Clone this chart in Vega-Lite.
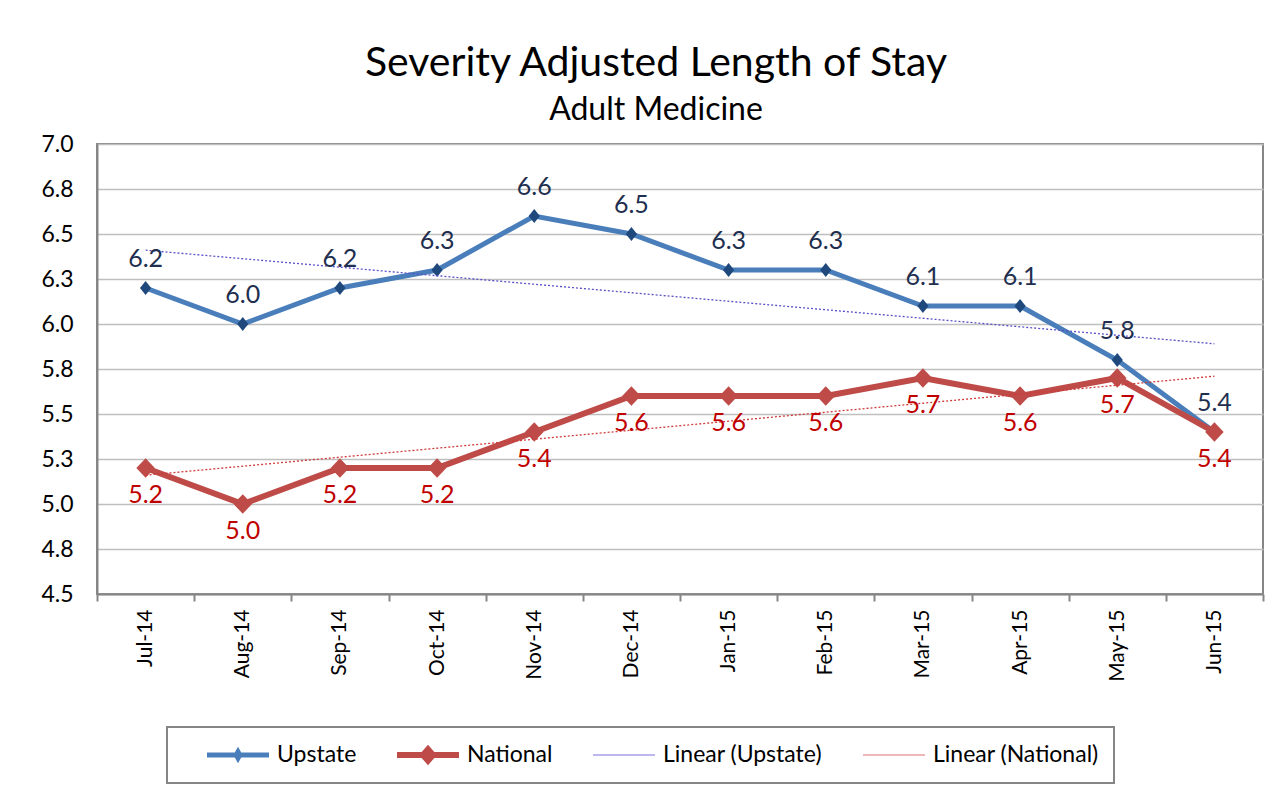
{
  "$schema": "https://vega.github.io/schema/vega-lite/v6.json",
  "width": 1166,
  "height": 450,
  "autosize": {"type": "none"},
  "padding": {"left": 97, "top": 144, "right": 17, "bottom": 203},
  "background": "white",
  "config": {
    "font": "Lato, Open Sans, sans-serif",
    "view": {"stroke": "#868686", "strokeWidth": 2}
  },
  "title": {
    "text": "Severity Adjusted Length of Stay",
    "subtitle": "Adult Medicine",
    "anchor": "middle",
    "dx": -24,
    "offset": 6,
    "font": "Lato, Open Sans, sans-serif",
    "subtitleFont": "Lato, Open Sans, sans-serif",
    "fontSize": 41,
    "fontWeight": "normal",
    "color": "#000000",
    "subtitleFontSize": 32,
    "subtitleColor": "#000000",
    "subtitlePadding": 10
  },
  "data": {
    "values": [
      {"month": "Jul-14", "series": "Upstate", "value": 6.2},
      {"month": "Aug-14", "series": "Upstate", "value": 6.0},
      {"month": "Sep-14", "series": "Upstate", "value": 6.2},
      {"month": "Oct-14", "series": "Upstate", "value": 6.3},
      {"month": "Nov-14", "series": "Upstate", "value": 6.6},
      {"month": "Dec-14", "series": "Upstate", "value": 6.5},
      {"month": "Jan-15", "series": "Upstate", "value": 6.3},
      {"month": "Feb-15", "series": "Upstate", "value": 6.3},
      {"month": "Mar-15", "series": "Upstate", "value": 6.1},
      {"month": "Apr-15", "series": "Upstate", "value": 6.1},
      {"month": "May-15", "series": "Upstate", "value": 5.8},
      {"month": "Jun-15", "series": "Upstate", "value": 5.4},
      {"month": "Jul-14", "series": "National", "value": 5.2},
      {"month": "Aug-14", "series": "National", "value": 5.0},
      {"month": "Sep-14", "series": "National", "value": 5.2},
      {"month": "Oct-14", "series": "National", "value": 5.2},
      {"month": "Nov-14", "series": "National", "value": 5.4},
      {"month": "Dec-14", "series": "National", "value": 5.6},
      {"month": "Jan-15", "series": "National", "value": 5.6},
      {"month": "Feb-15", "series": "National", "value": 5.6},
      {"month": "Mar-15", "series": "National", "value": 5.7},
      {"month": "Apr-15", "series": "National", "value": 5.6},
      {"month": "May-15", "series": "National", "value": 5.7},
      {"month": "Jun-15", "series": "National", "value": 5.4},
      {"month": "Jul-14", "series": "Linear (Upstate)", "value": 6.41},
      {"month": "Jun-15", "series": "Linear (Upstate)", "value": 5.89},
      {"month": "Jul-14", "series": "Linear (National)", "value": 5.16},
      {"month": "Jun-15", "series": "Linear (National)", "value": 5.71}
    ]
  },
  "encoding": {
    "x": {
      "field": "month",
      "type": "ordinal",
      "sort": ["Jul-14", "Aug-14", "Sep-14", "Oct-14", "Nov-14", "Dec-14", "Jan-15", "Feb-15", "Mar-15", "Apr-15", "May-15", "Jun-15"],
      "scale": {"type": "band", "paddingInner": 0, "paddingOuter": 0},
      "bandPosition": 0.5,
      "axis": {
        "title": null,
        "labelAngle": 270,
        "labelFontSize": 21,
        "labelColor": "#000000",
        "labelPadding": 8,
        "tickBand": "extent",
        "tickSize": 7,
        "tickColor": "#868686",
        "tickWidth": 2,
        "domainColor": "#868686",
        "domainWidth": 2,
        "grid": false
      }
    },
    "y": {
      "field": "value",
      "type": "quantitative",
      "scale": {"domain": [4.5, 7.0], "nice": false, "zero": false},
      "axis": {
        "title": null,
        "values": [4.5, 4.75, 5.0, 5.25, 5.5, 5.75, 6.0, 6.25, 6.5, 6.75, 7.0],
        "format": ".1f",
        "labelFontSize": 23,
        "labelColor": "#000000",
        "labelPadding": 24,
        "ticks": false,
        "domainColor": "#868686",
        "domainWidth": 2,
        "grid": true,
        "gridColor": "#BFBFBF",
        "gridWidth": 1.5
      }
    }
  },
  "layer": [
    {
      "transform": [{"filter": "datum.series === 'Upstate'"}],
      "mark": {"type": "line", "strokeWidth": 5},
      "encoding": {
        "stroke": {
          "field": "series",
          "type": "nominal",
          "scale": {
            "domain": ["Upstate", "National", "Linear (Upstate)", "Linear (National)"],
            "range": ["#4A7EBB", "#BE4B48", "#5A50C8", "#D03A3A"]
          },
          "legend": {
            "title": null,
            "orient": "none",
            "legendX": 70,
            "legendY": 583,
            "direction": "horizontal",
            "columns": 4,
            "padding": 15,
            "columnPadding": 15,
            "symbolSize": 3844,
            "symbolStrokeWidth": 0,
            "symbolOffset": 25,
            "labelOffset": 8,
            "labelLimit": 0,
            "clipHeight": 26,
            "labelFontSize": 23,
            "labelColor": "#000000",
            "labelFont": "Lato, Open Sans, sans-serif",
            "strokeColor": "#868686",
            "fillColor": "white",
            "encode": {
              "symbols": {
                "update": {
                  "shape": {"signal": "datum.value === 'Upstate' ? 'M-1,-0.08L1,-0.08L1,0.08L-1,0.08Z M0,-0.27L0.15,0L0,0.27L-0.15,0Z' : datum.value === 'National' ? 'M-1,-0.1L1,-0.1L1,0.1L-1,0.1Z M0,-0.33L0.29,0L0,0.33L-0.29,0Z' : 'M-1,-0.02L1,-0.02L1,0.02L-1,0.02Z'"},
                  "fill": {"signal": "datum.value === 'Upstate' ? '#4A7EBB' : datum.value === 'National' ? '#BE4B48' : datum.value === 'Linear (Upstate)' ? '#7A70E0' : '#E07070'"},
                  "stroke": {"value": "transparent"},
                  "strokeWidth": {"value": 0},
                  "opacity": {"value": 1}
                }
              },
              "legend": {
                "update": {
                  "strokeWidth": {"value": 2}
                }
              }
            }
          }
        }
      }
    },
    {
      "transform": [{"filter": "datum.series === 'Upstate'"}],
      "mark": {"type": "point", "shape": "M0,-1L0.8,0L0,1L-0.8,0Z", "filled": true, "color": "#1F497D", "size": 196, "opacity": 1}
    },
    {
      "transform": [{"filter": "datum.series === 'National'"}],
      "mark": {"type": "line", "strokeWidth": 6},
      "encoding": {
        "stroke": {"field": "series", "type": "nominal"}
      }
    },
    {
      "transform": [{"filter": "datum.series === 'National'"}],
      "mark": {"type": "point", "shape": "M0,-1L0.95,0L0,1L-0.95,0Z", "filled": true, "color": "#BE4B48", "size": 380, "opacity": 1}
    },
    {
      "transform": [{"filter": "indexof(datum.series, 'Linear') === 0"}],
      "mark": {"type": "line", "strokeWidth": 1.3, "strokeDash": [2, 2]},
      "encoding": {
        "stroke": {"field": "series", "type": "nominal"},
        "detail": {"field": "series"}
      }
    },
    {
      "transform": [{"filter": "datum.series === 'Upstate'"}],
      "mark": {"type": "text", "dy": -21, "baseline": "alphabetic", "align": "center", "fontSize": 25, "color": "#1F2F4F"},
      "encoding": {"text": {"field": "value", "type": "quantitative", "format": ".1f"}}
    },
    {
      "transform": [{"filter": "datum.series === 'National'"}],
      "mark": {"type": "text", "dy": 35, "baseline": "alphabetic", "align": "center", "fontSize": 25, "color": "#C00000"},
      "encoding": {"text": {"field": "value", "type": "quantitative", "format": ".1f"}}
    }
  ]
}
